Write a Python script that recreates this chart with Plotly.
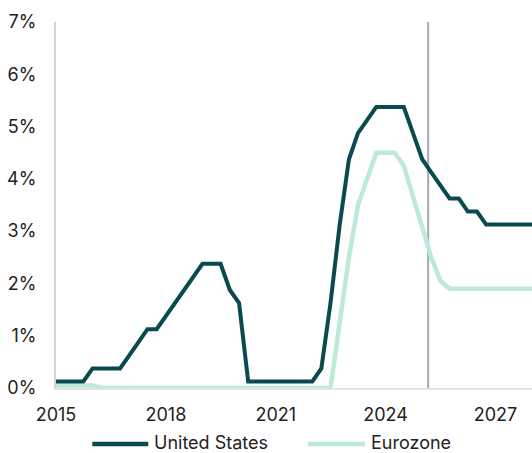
import pandas as pd
import plotly.graph_objects as go

# Quarterly policy-rate path, 2015Q1 to 2028Q1 (forecast from 2025)
quarters = pd.date_range("2015-01-01", "2028-01-01", freq="QS")

us_rate = [
    0.125, 0.125, 0.125, 0.125,   # 2015
    0.375, 0.375, 0.375, 0.375,   # 2016
    0.625, 0.875, 1.125, 1.125,   # 2017
    1.375, 1.625, 1.875, 2.125,   # 2018
    2.375, 2.375, 2.375, 1.875,   # 2019
    1.625, 0.125, 0.125, 0.125,   # 2020
    0.125, 0.125, 0.125, 0.125,   # 2021
    0.125, 0.375, 1.625, 3.125,   # 2022
    4.375, 4.875, 5.125, 5.375,   # 2023
    5.375, 5.375, 5.375, 4.875,   # 2024
    4.375, 4.125, 3.875, 3.625,   # 2025
    3.625, 3.375, 3.375, 3.125,   # 2026
    3.125, 3.125, 3.125, 3.125,   # 2027
    3.125,                        # 2028
]

eurozone_rate = [
    0.05, 0.05, 0.05, 0.05,       # 2015
    0.05, 0.0, 0.0, 0.0,          # 2016
    0.0, 0.0, 0.0, 0.0,           # 2017
    0.0, 0.0, 0.0, 0.0,           # 2018
    0.0, 0.0, 0.0, 0.0,           # 2019
    0.0, 0.0, 0.0, 0.0,           # 2020
    0.0, 0.0, 0.0, 0.0,           # 2021
    0.0, 0.0, 0.0, 1.25,          # 2022
    2.5, 3.5, 4.0, 4.5,           # 2023
    4.5, 4.5, 4.25, 3.65,         # 2024
    3.1, 2.5, 2.05, 1.9,          # 2025
    1.9, 1.9, 1.9, 1.9,           # 2026
    1.9, 1.9, 1.9, 1.9,           # 2027
    1.9,                          # 2028
]

series_names = ["United States", "Eurozone"]
series_colors = ["#0A494E", "#BDEAD5"]
forecast_start = "2025-03-01"
year_ticks = ["2015-01-01", "2018-01-01", "2021-01-01", "2024-01-01", "2027-01-01"]
year_labels = ["2015", "2018", "2021", "2024", "2027"]
pct_ticks = [0, 1, 2, 3, 4, 5, 6, 7]
pct_labels = [f"{v}%" for v in pct_ticks]

FONT = "Inter, Arial, sans-serif"
TEXT_COLOR = "#222222"

fig = go.Figure()
fig.add_trace(go.Scatter(
    x=quarters, y=eurozone_rate, mode="lines", name=series_names[1],
    line=dict(color=series_colors[1], width=4.5), cliponaxis=False,
    showlegend=False,
))
fig.add_trace(go.Scatter(
    x=quarters, y=us_rate, mode="lines", name=series_names[0],
    line=dict(color=series_colors[0], width=4), cliponaxis=False,
    showlegend=False,
))

# forecast divider
fig.add_shape(type="line", xref="x", yref="paper", x0=forecast_start, x1=forecast_start,
              y0=0, y1=1, line=dict(color="#A8A8A8", width=2), layer="below")

# legend drawn below the axis: (label, colour, sample start, sample end, label start)
legend_items = [
    (series_names[0], series_colors[0], 0.0763, 0.1939, 0.2022),
    (series_names[1], series_colors[1], 0.5294, 0.6492, 0.6576),
]
LEGEND_Y = -0.1530
for name, color, x0, x1, xt in legend_items:
    fig.add_shape(type="line", xref="paper", yref="paper", x0=x0, x1=x1,
                  y0=LEGEND_Y, y1=LEGEND_Y, line=dict(color=color, width=4.5))
    fig.add_annotation(xref="paper", yref="paper", x=xt, y=LEGEND_Y + 0.004,
                       text=name, showarrow=False, xanchor="left", yanchor="middle",
                       font=dict(family=FONT, size=18, color=TEXT_COLOR))

fig.update_layout(
    width=532, height=453,
    margin=dict(l=56, r=0, t=22, b=65),
    paper_bgcolor="white", plot_bgcolor="white",
    font=dict(family=FONT, size=18, color=TEXT_COLOR),
    showlegend=False,
)
fig.update_xaxes(
    range=["2015-01-01", "2028-01-01"],
    tickvals=year_ticks, ticktext=year_labels,
    showgrid=False, zeroline=False,
    showline=True, linecolor="#E3E3E3", linewidth=2,
    ticks="", ticklabelstandoff=9,
)
fig.update_yaxes(
    range=[0, 7],
    tickvals=pct_ticks, ticktext=pct_labels,
    showgrid=False, zeroline=False,
    showline=True, linecolor="#D4D4D4", linewidth=2,
    ticks="", ticklabelstandoff=14,
)

fig.write_html("out.html")
